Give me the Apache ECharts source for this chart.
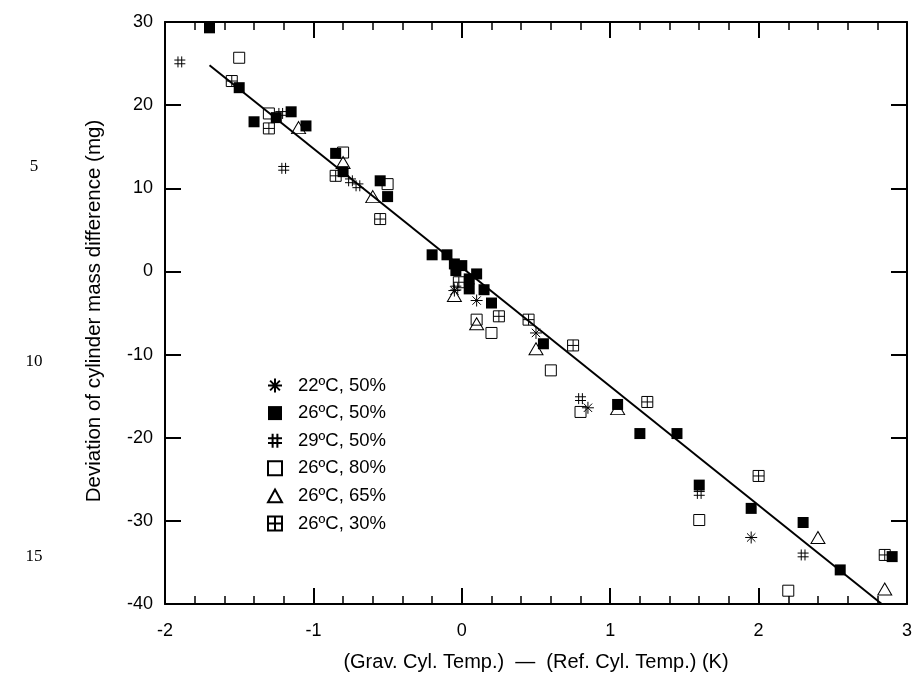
<!DOCTYPE html>
<html>
<head>
<meta charset="utf-8">
<script src="https://cdn.jsdelivr.net/npm/echarts@6/dist/echarts.min.js"></script>
<style>html,body{margin:0;padding:0;background:#fff}#c{width:915px;height:677px}</style>
</head>
<body>
<div id="c"></div>
<script>
var seriesNames = ['22ºC, 50%', '26ºC, 50%', '29ºC, 50%', '26ºC, 80%', '26ºC, 65%', '26ºC, 30%'];
var xTicks = [-2, -1, 0, 1, 2, 3];
var yTicks = [-40, -30, -20, -10, 0, 10, 20, 30];
var lineNumbers = ['5', '10', '15'];
var xTitle = '(Grav. Cyl. Temp.)  \u2014  (Ref. Cyl. Temp.) (K)';
var yTitle = 'Deviation of cylinder mass difference (mg)';

var s22_50 = [[-0.05,-2.3],[0.10,-3.5],[0.50,-7.4],[0.85,-16.4],[1.95,-32.0]];
var s26_50 = [[-1.70,29.3],[-1.50,22.1],[-1.40,18.0],[-1.25,18.5],[-1.15,19.2],[-1.05,17.5],[-0.85,14.2],[-0.80,12.0],[-0.55,10.9],[-0.50,9.0],[-0.20,2.0],[-0.10,2.0],[-0.05,0.9],[0.0,0.7],[-0.04,0.1],[0.10,-0.3],[0.05,-0.9],[0.05,-2.1],[0.15,-2.2],[0.20,-3.8],[0.55,-8.7],[1.05,-16.0],[1.20,-19.5],[1.45,-19.5],[1.60,-25.7],[1.95,-28.5],[2.30,-30.2],[2.55,-35.9],[2.90,-34.3]];
var s29_50 = [[-1.90,25.2],[-1.22,19.0],[-1.20,12.4],[-0.75,10.9],[-0.70,10.3],[-0.04,-2.0],[0.80,-15.3],[1.60,-26.7],[2.30,-34.1]];
var s26_80 = [[-1.50,25.7],[-1.30,19.0],[-0.80,14.3],[-0.50,10.5],[0.10,-5.8],[0.20,-7.4],[0.60,-11.9],[0.80,-16.9],[1.60,-29.9],[2.20,-38.4]];
var s26_65 = [[-1.10,17.3],[-0.80,13.1],[-0.60,9.0],[-0.05,-2.9],[0.10,-6.3],[0.50,-9.3],[1.05,-16.5],[2.40,-32.0],[2.85,-38.2]];
var s26_30 = [[-1.55,22.9],[-1.30,17.2],[-0.85,11.5],[-0.55,6.3],[-0.02,-1.3],[0.25,-5.4],[0.45,-5.8],[0.75,-8.9],[1.25,-15.7],[2.00,-24.6],[2.85,-34.1]];
var fitLine = [[-1.70,24.8],[2.83,-40.0]];

var P_AST = 'path://M0,5L10,5M5,0L5,10M1.5,1.5L8.5,8.5M1.5,8.5L8.5,1.5';
var P_HASH = 'path://M3.3,0L3.3,10M6.7,0L6.7,10M0,3.3L10,3.3M0,6.7L10,6.7';
var P_SQ = 'path://M0,0L10,0L10,10L0,10Z';
var P_TRI = 'path://M5,0L10,9L0,9Z';
var P_XSQ = 'path://M0,0L10,0L10,10L0,10ZM5,0L5,10M0,5L10,5';

function strokeSeries(name, data, sym, size) {
  return {
    name: name, type: 'scatter', data: data, symbol: sym, symbolSize: size,
    itemStyle: {color: 'rgba(0,0,0,0)', borderColor: '#000', borderWidth: 1, opacity: 1},
    z: 3
  };
}

var chart = echarts.init(document.getElementById('c'));
var FF = 'Liberation Sans, Arial, sans-serif';
var axisFont = {fontFamily: FF, fontSize: 18, color: '#000'};
var titleFont = {fontFamily: FF, fontSize: 20, color: '#000'};
var graphics = lineNumbers.map(function(t, i){
  return {type: 'text', x: 34, y: 167 + i * 195,
    style: {text: t, font: '17px "Liberation Serif", "Times New Roman", serif', fill: '#000', align: 'center', verticalAlign: 'middle'}};
});
graphics.push({type: 'text', x: 94, y: 311, rotation: Math.PI / 2,
  style: {text: yTitle, font: '20.5px "Liberation Sans", Arial, sans-serif', fill: '#000', align: 'center', verticalAlign: 'middle'}});

chart.setOption({
  animation: false,
  backgroundColor: '#fff',
  grid: {left: 165, right: 6, top: 22, bottom: 71},
  xAxis: [{
    type: 'value', min: -2, max: 3, interval: 1, position: 'bottom',
    axisLine: {show: true, onZero: false, lineStyle: {color: '#000', width: 2}},
    axisTick: {show: true, inside: true, length: 16, lineStyle: {color: '#000', width: 2}},
    minorTick: {show: true, splitNumber: 5, length: 8, lineStyle: {color: '#000', width: 1.5}},
    splitLine: {show: false},
    axisLabel: Object.assign({margin: 18, formatter: function(v){return xTicks.indexOf(v) >= 0 ? String(v) : '';}}, axisFont),
    name: xTitle,
    nameLocation: 'middle', nameGap: 48,
    nameTextStyle: titleFont
  }, {
    type: 'value', min: -2, max: 3, interval: 1, position: 'top',
    axisLine: {show: true, onZero: false, lineStyle: {color: '#000', width: 2}},
    axisTick: {show: true, inside: true, length: 16, lineStyle: {color: '#000', width: 2}},
    minorTick: {show: true, splitNumber: 5, length: 8, lineStyle: {color: '#000', width: 1.5}},
    splitLine: {show: false}, axisLabel: {show: false}
  }],
  yAxis: [{
    type: 'value', min: -40, max: 30, interval: 10, position: 'left',
    axisLine: {show: true, onZero: false, lineStyle: {color: '#000', width: 2}},
    axisTick: {show: true, inside: true, length: 16, lineStyle: {color: '#000', width: 2}},
    splitLine: {show: false},
    axisLabel: Object.assign({margin: 12, formatter: function(v){return yTicks.indexOf(v) >= 0 ? String(v) : '';}}, axisFont)
  }, {
    type: 'value', min: -40, max: 30, interval: 10, position: 'right',
    axisLine: {show: true, onZero: false, lineStyle: {color: '#000', width: 2}},
    axisTick: {show: true, inside: true, length: 16, lineStyle: {color: '#000', width: 2}},
    splitLine: {show: false}, axisLabel: {show: false}
  }],
  legend: {
    orient: 'vertical', left: 262, top: 371, itemGap: 8.6,
    itemWidth: 14, itemHeight: 14,
    data: seriesNames,
    textStyle: {fontFamily: FF, fontSize: 18.5, color: '#000', lineHeight: 18, padding: [0,0,0,11]}
  },
  graphic: graphics,
  series: [
    {name: 'fit', type: 'line', data: fitLine, symbol: 'none', lineStyle: {color: '#000', width: 2}, z: 2, silent: true},
    strokeSeries(seriesNames[0], s22_50, P_AST, 12),
    {name: seriesNames[1], type: 'scatter', data: s26_50, symbol: 'rect', symbolSize: 11,
      itemStyle: {color: '#000', borderColor: '#000', borderWidth: 0, opacity: 1}, z: 4},
    strokeSeries(seriesNames[2], s29_50, P_HASH, 11),
    strokeSeries(seriesNames[3], s26_80, P_SQ, 11),
    strokeSeries(seriesNames[4], s26_65, P_TRI, [14, 12]),
    strokeSeries(seriesNames[5], s26_30, P_XSQ, 11)
  ]
});
</script>
</body>
</html>
